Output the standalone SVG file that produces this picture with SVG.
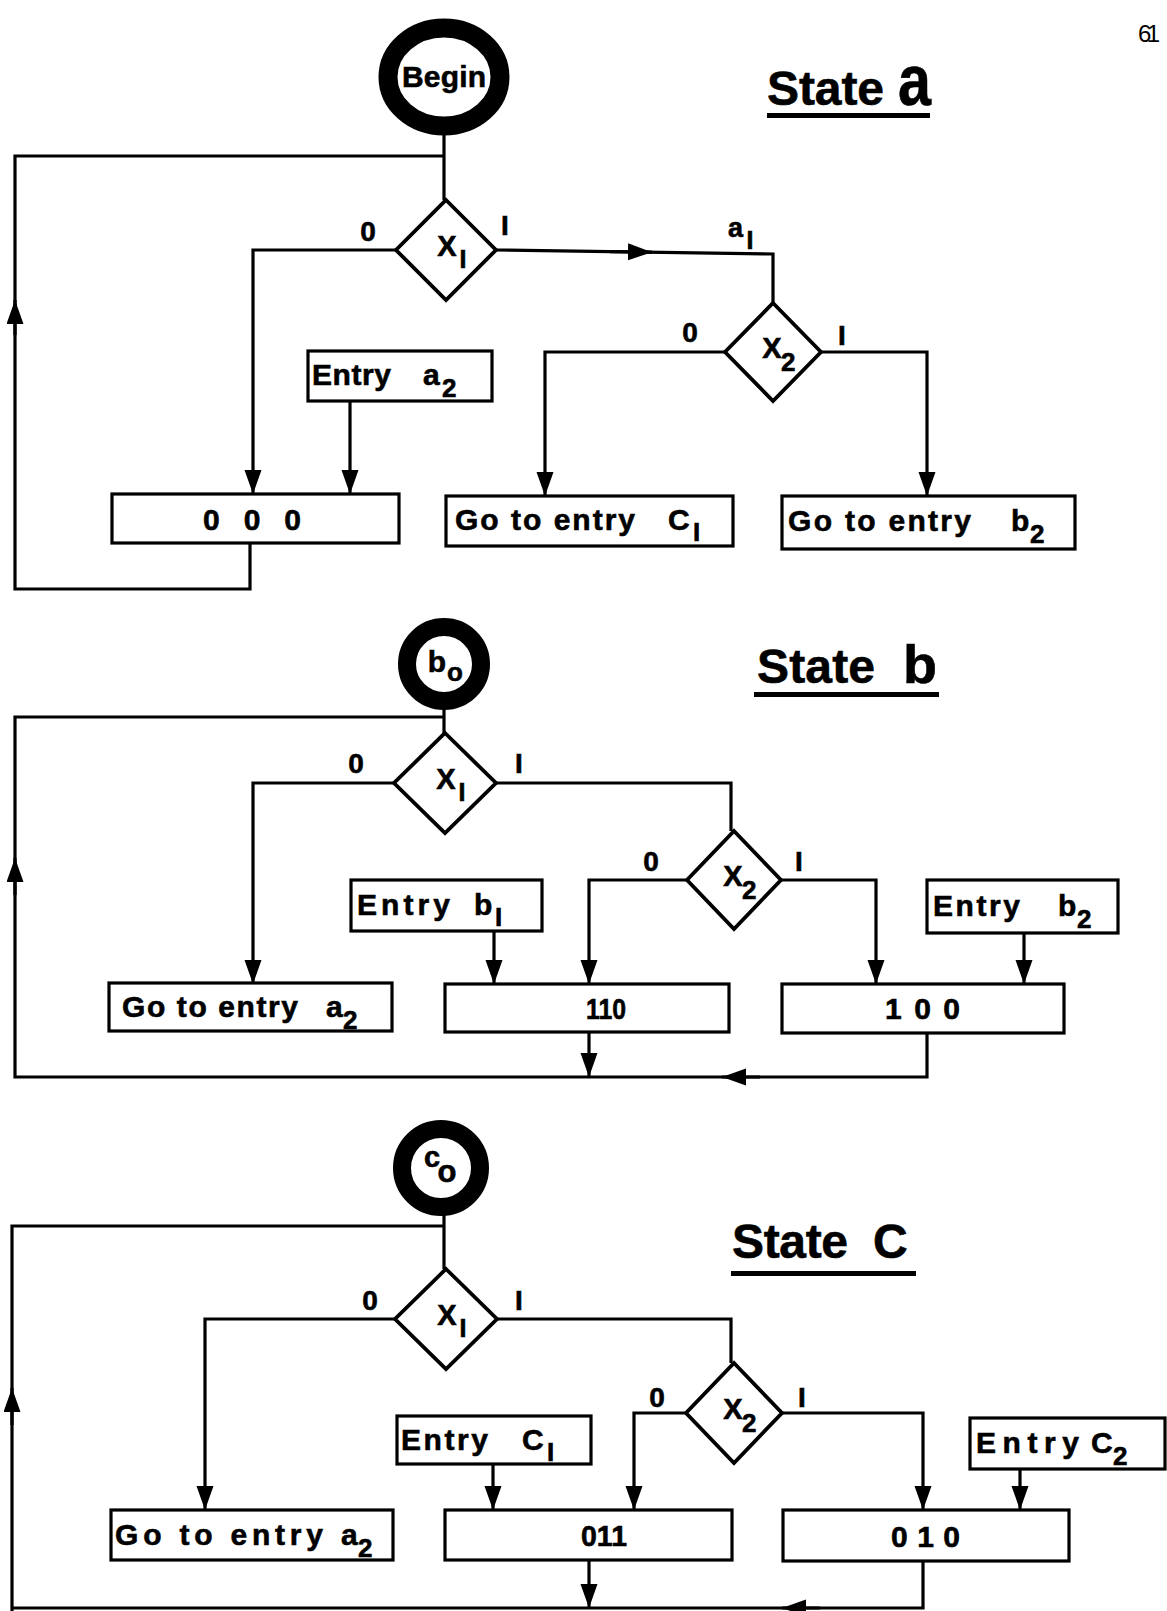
<svg xmlns="http://www.w3.org/2000/svg" width="1167" height="1611" viewBox="0 0 1167 1611">
<style>
.ln{fill:none;stroke:#000;stroke-width:3.2;stroke-linejoin:miter}
.bx{fill:#fff;stroke:#000;stroke-width:3.2}
.dm{fill:#fff;stroke:#000;stroke-width:3.8}
.rg{fill:#fff;stroke:#000}
.t{font-family:"Liberation Sans",Arial,sans-serif;font-weight:bold;fill:#000;stroke:#000;stroke-width:0.6}
.m{font-size:30px}
.s{font-size:26px}
.x{font-size:29px;text-anchor:middle}
.xs{font-size:25px;text-anchor:middle}
.lb{font-size:28px;text-anchor:middle}
.ti{font-size:48px}
</style>
<defs>
<marker id="ah" markerUnits="userSpaceOnUse" markerWidth="26" markerHeight="18" refX="24" refY="8.5" orient="auto"><path d="M0,0 L24,8.5 L0,17 z" fill="#000"/></marker>
</defs>
<rect width="1167" height="1611" fill="#fff"/>
<text x="1138" y="42" style="font-family:'Liberation Sans',Arial,sans-serif;font-size:24px" textLength="22">61</text>

<!-- connectors -->
<g id="connectors">
<!-- State a -->
<path class="ln" d="M444,130 V200"/>
<path class="ln" d="M444,156 H15 V589 H250 V543"/>
<path class="ln" marker-end="url(#ah)" d="M15,335 V300"/>
<path class="ln" marker-end="url(#ah)" d="M396,250 H253 V494"/>
<path class="ln" d="M496,250 L773,254 V303"/>
<path class="ln" marker-end="url(#ah)" d="M610,251.6 L652,252.2"/>
<path class="ln" marker-end="url(#ah)" d="M725,352 H545 V496"/>
<path class="ln" marker-end="url(#ah)" d="M821,352 H927 V496"/>
<path class="ln" marker-end="url(#ah)" d="M350,401 V494"/>
<!-- State b -->
<path class="ln" d="M444,705 V734"/>
<path class="ln" d="M444,717 H15 V1077 H927 V1033"/>
<path class="ln" marker-end="url(#ah)" d="M15,895 V858"/>
<path class="ln" marker-end="url(#ah)" d="M760,1077 H722"/>
<path class="ln" marker-end="url(#ah)" d="M589,1032 V1077"/>
<path class="ln" marker-end="url(#ah)" d="M394,783 H253 V984"/>
<path class="ln" d="M496,783 H731 V831"/>
<path class="ln" marker-end="url(#ah)" d="M687,880 H589 V984"/>
<path class="ln" marker-end="url(#ah)" d="M781,880 H876 V984"/>
<path class="ln" marker-end="url(#ah)" d="M494,931 V984"/>
<path class="ln" marker-end="url(#ah)" d="M1024,933 V984"/>
<!-- State c -->
<path class="ln" d="M444,1210 V1269"/>
<path class="ln" d="M444,1226 H12 V1611"/>
<path class="ln" marker-end="url(#ah)" d="M12,1425 V1388"/>
<path class="ln" d="M12,1608 H923 V1561"/>
<path class="ln" marker-end="url(#ah)" d="M820,1608 H782"/>
<path class="ln" marker-end="url(#ah)" d="M589,1560 V1608"/>
<path class="ln" marker-end="url(#ah)" d="M395,1319 H205 V1510"/>
<path class="ln" d="M497,1319 H731 V1363"/>
<path class="ln" marker-end="url(#ah)" d="M686,1413 H634 V1510"/>
<path class="ln" marker-end="url(#ah)" d="M782,1413 H923 V1510"/>
<path class="ln" marker-end="url(#ah)" d="M493,1464 V1510"/>
<path class="ln" marker-end="url(#ah)" d="M1020,1469 V1510"/>
</g>

<!-- State a nodes -->
<g id="title-a"><text class="t ti" x="767" y="105" textLength="117">State</text><text class="t" x="898" y="105" style="font-size:72px" textLength="33" lengthAdjust="spacingAndGlyphs">a</text><rect x="767" y="113" width="163" height="5" fill="#000"/></g>
<g id="begin"><ellipse class="rg" cx="444" cy="77" rx="56" ry="49" stroke-width="19"/><text class="t m" x="444" y="87" text-anchor="middle" textLength="84">Begin</text></g>
<g id="a-x1"><polygon class="dm" points="446,200 496,250 446,300 396,250"/><text class="t x" x="447" y="256">X</text><text class="t xs" x="463" y="268">I</text></g>
<g id="a-l0"><text class="t lb" x="368" y="241">0</text><text class="t lb" x="505" y="235">I</text></g>
<g id="a-a1"><text class="t" style="font-size:27px" x="728" y="237">a</text><text class="t xs" x="750" y="249">I</text></g>
<g id="a-x2"><polygon class="dm" points="773,303 821,352 773,401 725,352"/><text class="t x" x="772" y="358">X</text><text class="t s" x="781" y="371">2</text></g>
<g id="a-l1"><text class="t lb" x="690" y="342">0</text><text class="t lb" x="842" y="345">I</text></g>
<g id="a-entry"><rect class="bx" x="308" y="351" width="184" height="50"/><text class="t m" x="312" y="385" textLength="79">Entry</text><text class="t m" x="423" y="385">a</text><text class="t s" x="442" y="397">2</text></g>
<g id="a-000"><rect class="bx" x="112" y="494" width="287" height="49"/><text class="t m" x="203" y="530" textLength="98">0 0 0</text></g>
<g id="a-goc1"><rect class="bx" x="446" y="496" width="287" height="50"/><text class="t m" x="455" y="530" textLength="180">Go to entry</text><text class="t m" x="668" y="530">C</text><text class="t s" x="693" y="541">I</text></g>
<g id="a-gob2"><rect class="bx" x="782" y="496" width="293" height="53"/><text class="t m" x="788" y="531" textLength="183">Go to entry</text><text class="t m" x="1011" y="531">b</text><text class="t s" x="1030" y="543">2</text></g>

<!-- State b nodes -->
<g id="title-b"><text class="t ti" x="757" y="683" textLength="118">State</text><text class="t" x="903" y="683" style="font-size:54px" textLength="34" lengthAdjust="spacingAndGlyphs">b</text><rect x="754" y="692" width="185" height="5" fill="#000"/></g>
<g id="b0"><circle class="rg" cx="444" cy="664" r="37" stroke-width="18"/><text class="t m" x="437" y="672" text-anchor="middle">b</text><text class="t" style="font-size:26px" x="455" y="681" text-anchor="middle">o</text></g>
<g id="b-x1"><polygon class="dm" points="445,733 496,783 445,833 394,783"/><text class="t x" x="446" y="789">X</text><text class="t xs" x="462" y="801">I</text></g>
<g id="b-l0"><text class="t lb" x="356" y="773">0</text><text class="t lb" x="519" y="773">I</text></g>
<g id="b-x2"><polygon class="dm" points="734,831 781,880 734,929 687,880"/><text class="t x" x="733" y="886">X</text><text class="t s" x="742" y="899">2</text></g>
<g id="b-l1"><text class="t lb" x="651" y="871">0</text><text class="t lb" x="799" y="871">I</text></g>
<g id="b-entry1"><rect class="bx" x="351" y="880" width="191" height="51"/><text class="t m" x="357" y="915" textLength="93">Entry</text><text class="t m" x="474" y="915">b</text><text class="t s" x="495" y="926">I</text></g>
<g id="b-entry2"><rect class="bx" x="927" y="880" width="191" height="53"/><text class="t m" x="933" y="916" textLength="87">Entry</text><text class="t m" x="1058" y="916">b</text><text class="t s" x="1077" y="928">2</text></g>
<g id="b-goa2"><rect class="bx" x="109" y="983" width="283" height="48"/><text class="t m" x="122" y="1017" textLength="176">Go to entry</text><text class="t m" x="326" y="1017">a</text><text class="t s" x="343" y="1029">2</text></g>
<g id="b-110"><rect class="bx" x="445" y="984" width="284" height="48"/><text class="t m" x="586" y="1019" textLength="40" lengthAdjust="spacingAndGlyphs">110</text></g>
<g id="b-100"><rect class="bx" x="782" y="984" width="282" height="49"/><text class="t m" x="885" y="1019" textLength="75">1 0 0</text></g>

<!-- State c nodes -->
<g id="title-c"><text class="t ti" x="732" y="1258" textLength="116">State</text><text class="t ti" x="873" y="1258" textLength="38">C</text><rect x="731" y="1271" width="185" height="5" fill="#000"/></g>
<g id="c0"><circle class="rg" cx="441" cy="1168" r="39" stroke-width="18"/><text class="t" style="font-size:29px" x="432" y="1167" text-anchor="middle">c</text><text class="t" style="font-size:31px" x="447" y="1182" text-anchor="middle">o</text></g>
<g id="c-x1"><polygon class="dm" points="446,1269 497,1319 446,1369 395,1319"/><text class="t x" x="447" y="1325">X</text><text class="t xs" x="463" y="1337">I</text></g>
<g id="c-l0"><text class="t lb" x="370" y="1310">0</text><text class="t lb" x="519" y="1310">I</text></g>
<g id="c-x2"><polygon class="dm" points="734,1363 782,1413 734,1463 686,1413"/><text class="t x" x="733" y="1419">X</text><text class="t s" x="742" y="1432">2</text></g>
<g id="c-l1"><text class="t lb" x="657" y="1407">0</text><text class="t lb" x="802" y="1407">I</text></g>
<g id="c-entry1"><rect class="bx" x="397" y="1416" width="194" height="48"/><text class="t m" x="401" y="1450" textLength="87">Entry</text><text class="t m" x="522" y="1450">C</text><text class="t s" x="547" y="1461">I</text></g>
<g id="c-entry2"><rect class="bx" x="970" y="1418" width="195" height="51"/><text class="t m" x="976" y="1453" textLength="103">Entry</text><text class="t m" x="1091" y="1453">C</text><text class="t s" x="1113" y="1465">2</text></g>
<g id="c-goa2"><rect class="bx" x="111" y="1510" width="282" height="50"/><text class="t m" x="115" y="1545" textLength="208">Go to entry</text><text class="t m" x="341" y="1545">a</text><text class="t s" x="358" y="1557">2</text></g>
<g id="c-011"><rect class="bx" x="445" y="1510" width="287" height="50"/><text class="t m" x="581" y="1546" textLength="46" lengthAdjust="spacingAndGlyphs">011</text></g>
<g id="c-010"><rect class="bx" x="783" y="1510" width="286" height="51"/><text class="t m" x="891" y="1547" textLength="69">0 1 0</text></g>
</svg>
